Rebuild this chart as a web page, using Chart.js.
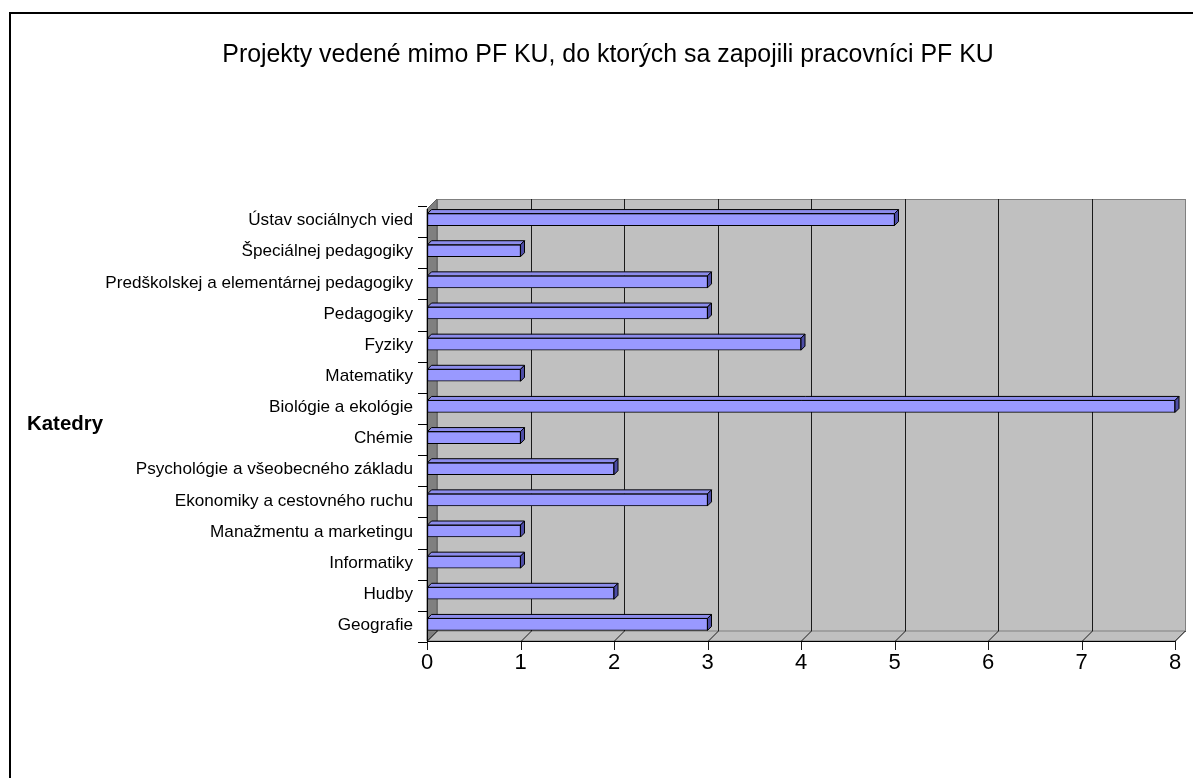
<!DOCTYPE html>
<html>
<head>
<meta charset="utf-8">
<script src="https://cdn.jsdelivr.net/npm/chart.js@4.4.1/dist/chart.umd.min.js"></script>
<style>
html,body{margin:0;padding:0;background:#fff;}
#wrap{width:1193px;height:778px;position:relative;}
</style>
</head>
<body>
<div id="wrap"><canvas id="c"></canvas></div>
<script>
const chartTitle = 'Projekty vedené mimo PF KU, do ktorých sa zapojili pracovníci PF KU';
const axisTitle = 'Katedry';
const categories = [
  'Ústav sociálnych vied',
  'Špeciálnej pedagogiky',
  'Predškolskej a elementárnej pedagogiky',
  'Pedagogiky',
  'Fyziky',
  'Matematiky',
  'Biológie a ekológie',
  'Chémie',
  'Psychológie a všeobecného základu',
  'Ekonomiky a cestovného ruchu',
  'Manažmentu a marketingu',
  'Informatiky',
  'Hudby',
  'Geografie'
];
const projectCounts = [5, 1, 3, 3, 4, 1, 8, 1, 2, 3, 1, 1, 2, 3];
const xTicks = [0, 1, 2, 3, 4, 5, 6, 7, 8];

const FONT = '"Liberation Sans", Arial, sans-serif';
const DEPTH = 10;
const BAR3D = 4;

function fitSize(ctx, text, weight, targetW) {
  ctx.save();
  ctx.font = weight + ' 20px ' + FONT;
  const w = ctx.measureText(text).width;
  ctx.restore();
  return 20 * targetW / w;
}

function drawText(ctx, text, x, y, font, align) {
  ctx.save();
  ctx.font = font;
  ctx.textAlign = align;
  ctx.textBaseline = 'middle';
  ctx.fillStyle = '#000';
  ctx.fillText(text, x, y);
  ctx.restore();
}

const decor = {
  id: 'decor',
  beforeDatasetsDraw(chart) {
    const ctx = chart.ctx;
    const ca = chart.chartArea;
    const xs = chart.scales.x;
    const L = ca.left, R = ca.right, B = ca.bottom + 1, T = ca.top + 5, d = DEPTH;
    ctx.save();
    ctx.strokeStyle = '#000';
    ctx.lineWidth = 2;
    ctx.strokeRect(10, 13, 1300, 900);
    ctx.fillStyle = '#C0C0C0';
    ctx.fillRect(L + d, T - d, R - L, B - T);
    ctx.strokeStyle = '#808080';
    ctx.lineWidth = 1;
    ctx.strokeRect(L + d + 0.5, T - d + 0.5, R - L, B - T);
    ctx.beginPath();
    ctx.moveTo(L, B); ctx.lineTo(R, B); ctx.lineTo(R + d, B - d); ctx.lineTo(L + d, B - d); ctx.closePath();
    ctx.fillStyle = '#C0C0C0'; ctx.fill();
    ctx.strokeStyle = '#808080'; ctx.stroke();
    ctx.beginPath();
    ctx.moveTo(L, B); ctx.lineTo(L, T); ctx.lineTo(L + d, T - d); ctx.lineTo(L + d, B - d); ctx.closePath();
    ctx.fillStyle = '#808080'; ctx.fill();
    ctx.strokeStyle = '#606060'; ctx.stroke();
    ctx.strokeStyle = '#1a1a1a';
    ctx.lineWidth = 1;
    xTicks.forEach(v => {
      const xf = Math.round(xs.getPixelForValue(v)) + 0.5;
      if (v > 0 && v < xTicks[xTicks.length - 1]) {
        ctx.beginPath();
        ctx.moveTo(xf + d, T - d); ctx.lineTo(xf + d, B - d);
        ctx.stroke();
      }
      ctx.beginPath();
      ctx.moveTo(xf, B); ctx.lineTo(xf + d, B - d);
      ctx.moveTo(xf, B); ctx.lineTo(xf, B + 9);
      ctx.stroke();
    });
    ctx.strokeStyle = '#000';
    ctx.beginPath();
    ctx.moveTo(L, B + 0.5); ctx.lineTo(R, B + 0.5);
    ctx.moveTo(L + 0.5, B); ctx.lineTo(L + 0.5, T);
    ctx.stroke();
    const ys = chart.scales.y;
    const n = categories.length;
    for (let i = 0; i <= n; i++) {
      const yy = Math.round(ys.getPixelForValue(i - 0.5)) + 2.5;
      ctx.beginPath();
      ctx.moveTo(L - 9, yy); ctx.lineTo(L, yy);
      ctx.stroke();
    }
    ctx.restore();
  },
  afterDatasetsDraw(chart) {
    const ctx = chart.ctx;
    const meta = chart.getDatasetMeta(0);
    const o = BAR3D;
    ctx.save();
    ctx.lineWidth = 1;
    ctx.strokeStyle = '#000';
    meta.data.forEach(el => {
      const p = el.getProps(['x', 'y', 'base', 'height'], true);
      const x0 = p.base, x1 = p.x, yt = p.y - p.height / 2, yb = p.y + p.height / 2;
      ctx.beginPath();
      ctx.moveTo(x0, yt); ctx.lineTo(x0 + o, yt - o); ctx.lineTo(x1 + o, yt - o); ctx.lineTo(x1, yt); ctx.closePath();
      ctx.fillStyle = '#8C8CEB'; ctx.fill(); ctx.stroke();
      ctx.beginPath();
      ctx.moveTo(x1, yt); ctx.lineTo(x1 + o, yt - o); ctx.lineTo(x1 + o, yb - o); ctx.lineTo(x1, yb); ctx.closePath();
      ctx.fillStyle = '#4D4DA6'; ctx.fill(); ctx.stroke();
    });
    ctx.restore();
  },
  afterDraw(chart) {
    const ctx = chart.ctx;
    const ca = chart.chartArea;
    const ys = chart.scales.y;
    const tSize = fitSize(ctx, chartTitle, '', 772);
    drawText(ctx, chartTitle, 608, 55, tSize.toFixed(2) + 'px ' + FONT, 'center');
    const aSize = fitSize(ctx, axisTitle, 'bold', 76);
    drawText(ctx, axisTitle, 27, 424, 'bold ' + aSize.toFixed(2) + 'px ' + FONT, 'left');
    const lSize = fitSize(ctx, categories[2], '', 308);
    categories.forEach((c, i) => {
      const y = ys.getPixelForValue(i) + 1;
      drawText(ctx, c, ca.left - 14, y, lSize.toFixed(2) + 'px ' + FONT, 'right');
    });
  }
};

new Chart(document.getElementById('c'), {
  type: 'bar',
  data: {
    labels: categories,
    datasets: [{
      data: projectCounts,
      backgroundColor: '#9999FF',
      borderColor: '#000',
      borderWidth: 1,
      borderSkipped: false,
      barThickness: 12
    }]
  },
  options: {
    indexAxis: 'y',
    responsive: true,
    maintainAspectRatio: false,
    animation: false,
    devicePixelRatio: 1,
    layout: { padding: { left: 0, top: 204, right: 18, bottom: 0 } },
    plugins: { legend: { display: false }, title: { display: false }, tooltip: { enabled: false } },
    scales: {
      x: {
        type: 'linear',
        min: 0, max: 8,
        afterBuildTicks(scale) { scale.ticks = xTicks.map(v => ({ value: v })); },
        afterFit(scale) { scale.height = 138; },
        grid: { display: true, color: 'rgba(0,0,0,0)', drawTicks: true, tickLength: 9, tickColor: 'rgba(0,0,0,0)' },
        border: { display: false },
        ticks: { color: '#000', font: { family: FONT, size: 22 }, padding: 1, maxRotation: 0 }
      },
      y: {
        type: 'category',
        afterFit(scale) { scale.width = 427; },
        grid: { display: false },
        border: { display: false },
        ticks: { display: false }
      }
    }
  },
  plugins: [decor]
});
</script>
</body>
</html>
